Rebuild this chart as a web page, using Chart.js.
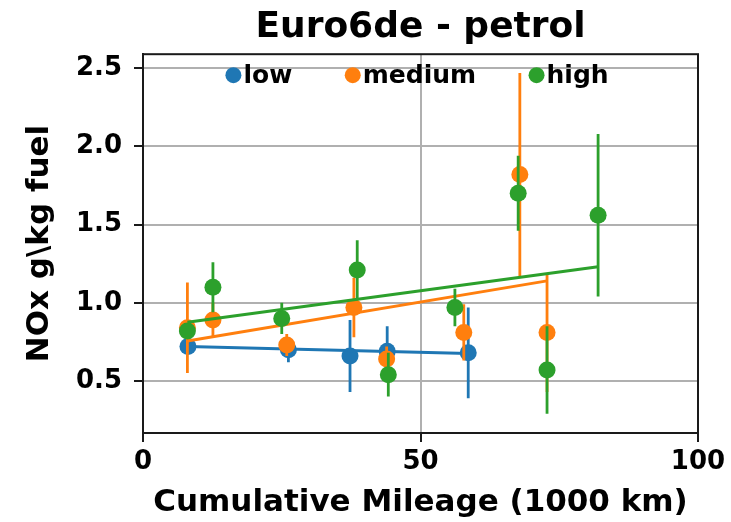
<!DOCTYPE html>
<html>
<head>
<meta charset="utf-8">
<script src="https://cdn.jsdelivr.net/npm/chart.js@4.4.0/dist/chart.umd.min.js"></script>
<style>
  html, body { margin: 0; padding: 0; background: #fff; }
  #wrap { width: 731px; height: 522px; }
</style>
</head>
<body>
<div id="wrap"><canvas id="noxChart"></canvas></div>
<script>
const groups = ['low', 'medium', 'high'];
const groupColors = ['#1f77b4', '#ff7f0e', '#2ca02c'];

// mileage (1000 km), mean NOx (g/kg fuel) and half-width of the error bar
const lowMileage = [8.1, 26.2, 37.3, 44.0, 58.6];
const lowNox = [0.72, 0.70, 0.66, 0.69, 0.68];
const lowErr = [0.05, 0.08, 0.23, 0.16, 0.29];

const mediumMileage = [8.0, 12.6, 25.9, 38.0, 43.9, 57.8, 67.9, 72.8];
const mediumNox = [0.84, 0.89, 0.73, 0.97, 0.64, 0.81, 1.82, 0.81];
const mediumErr = [0.29, 0.11, 0.07, 0.19, 0.08, 0.18, 0.65, 0.38];

const highMileage = [8.0, 12.6, 25.0, 38.6, 44.2, 56.2, 67.6, 72.8, 82.0];
const highNox = [0.82, 1.10, 0.90, 1.21, 0.54, 0.97, 1.70, 0.57, 1.56];
const highErr = [0.05, 0.16, 0.10, 0.19, 0.14, 0.12, 0.24, 0.28, 0.52];

// linear trend end points per group
const lowFitX = [8.1, 58.6];
const lowFitY = [0.72, 0.675];
const mediumFitX = [8.0, 72.8];
const mediumFitY = [0.755, 1.14];
const highFitX = [8.0, 82.0];
const highFitY = [0.875, 1.23];

const xTicks = [0, 50, 100];
const yTicks = [0.5, 1.0, 1.5, 2.0, 2.5];

const toPoints = (xs, ys) => xs.map((x, i) => ({ x: x, y: ys[i] }));

const pointSet = (i, xs, ys, errs, order) => ({
    type: 'scatter',
    label: groups[i],
    data: toPoints(xs, ys),
    errors: errs,
    backgroundColor: groupColors[i],
    borderColor: groupColors[i],
    pointRadius: 8.5,
    pointBorderWidth: 0,
    pointHoverRadius: 8.5,
    order: order
});

const fitSet = (i, xs, ys, order) => ({
    type: 'line',
    label: groups[i] + ' fit',
    data: toPoints(xs, ys),
    borderColor: groupColors[i],
    borderWidth: 3,
    pointRadius: 0,
    fill: false,
    order: order
});

const boldFont = (size) => ({ family: 'DejaVu Sans', weight: 'bold', size: size });

// vertical error bars, drawn just before each scatter set so the markers sit on top
const errorBars = {
    id: 'errorBars',
    beforeDatasetDraw(chart, args) {
        const ds = chart.data.datasets[args.index];
        if (!ds.errors) return;
        const { ctx, chartArea, scales: { x, y } } = chart;
        ctx.save();
        ctx.beginPath();
        ctx.rect(chartArea.left, chartArea.top, chartArea.width, chartArea.height);
        ctx.clip();
        ctx.strokeStyle = ds.borderColor;
        ctx.lineWidth = 2.8;
        ds.data.forEach((p, i) => {
            const px = x.getPixelForValue(p.x);
            ctx.beginPath();
            ctx.moveTo(px, y.getPixelForValue(p.y - ds.errors[i]));
            ctx.lineTo(px, y.getPixelForValue(p.y + ds.errors[i]));
            ctx.stroke();
        });
        ctx.restore();
    }
};

// closed box round the plot area
const frame = {
    id: 'frame',
    afterDatasetsDraw(chart) {
        const { ctx, chartArea: a } = chart;
        ctx.save();
        ctx.strokeStyle = '#1a1a1a';
        ctx.lineWidth = 2;
        ctx.strokeRect(a.left, a.top, a.width, a.height);
        ctx.restore();
    }
};

// one-row legend inside the top of the plot area
const innerLegend = {
    id: 'innerLegend',
    afterDatasetsDraw(chart) {
        const { ctx, chartArea: a } = chart;
        const sets = chart.data.datasets.filter(ds => ds.errors);
        const radius = 8;
        const textGap = 10;
        const itemGap = 44.5;
        ctx.save();
        ctx.font = 'bold 25px "DejaVu Sans"';
        ctx.textBaseline = 'middle';
        ctx.textAlign = 'left';
        const widths = sets.map(ds => radius + textGap + ctx.measureText(ds.label).width);
        const total = widths.reduce((s, w) => s + w, 0) + itemGap * (sets.length - 1) + radius;
        let x = (a.left + a.right) / 2 - total / 2 - 7.5;
        const y = a.top + 21;
        sets.forEach((ds, i) => {
            ctx.fillStyle = ds.backgroundColor;
            Chart.helpers.drawPoint(ctx, { pointStyle: 'circle', radius: radius, borderWidth: 0 }, x + radius, y);
            ctx.fillStyle = '#000';
            ctx.fillText(ds.label, x + radius + textGap, y + 1);
            x += radius + widths[i] + itemGap;
        });
        ctx.restore();
    }
};

// centre the title over the plot area rather than the whole canvas
const titleOverPlot = {
    id: 'titleOverPlot',
    afterLayout(chart) {
        chart.titleBlock.left = chart.chartArea.left;
        chart.titleBlock.right = chart.chartArea.right;
    }
};

new Chart(document.getElementById('noxChart'), {
    data: {
        datasets: [
            pointSet(0, lowMileage, lowNox, lowErr, 6),
            fitSet(0, lowFitX, lowFitY, 5),
            pointSet(1, mediumMileage, mediumNox, mediumErr, 4),
            fitSet(1, mediumFitX, mediumFitY, 3),
            pointSet(2, highMileage, highNox, highErr, 2),
            fitSet(2, highFitX, highFitY, 1)
        ]
    },
    options: {
        responsive: true,
        maintainAspectRatio: false,
        animation: false,
        layout: {
            padding: { left: 0, right: 33, top: 0, bottom: 0 }
        },
        scales: {
            x: {
                type: 'linear',
                min: 0,
                max: 100,
                afterBuildTicks: (scale) => { scale.ticks = xTicks.map(v => ({ value: v })); },
                afterFit: (scale) => { scale.height = 89; },
                ticks: {
                    font: boldFont(26),
                    color: '#000',
                    padding: 5,
                    maxRotation: 0,
                    callback: (v) => String(v)
                },
                grid: {
                    color: '#b0b0b0',
                    lineWidth: 2,
                    tickColor: '#1a1a1a',
                    tickLength: 9,
                    tickWidth: 2
                },
                border: { color: '#1a1a1a', width: 2 },
                title: {
                    display: true,
                    text: 'Cumulative Mileage (1000 km)',
                    font: boldFont(31),
                    color: '#000',
                    padding: { top: 0, bottom: 0 }
                }
            },
            y: {
                type: 'linear',
                min: 0.167,
                max: 2.59,
                afterBuildTicks: (scale) => { scale.ticks = yTicks.map(v => ({ value: v })); },
                afterFit: (scale) => { scale.width = 143; },
                ticks: {
                    font: boldFont(26),
                    color: '#000',
                    padding: 12,
                    callback: (v) => v.toFixed(1)
                },
                grid: {
                    color: '#b0b0b0',
                    lineWidth: 2,
                    tickColor: '#1a1a1a',
                    tickLength: 9,
                    tickWidth: 2
                },
                border: { color: '#1a1a1a', width: 2 },
                title: {
                    display: true,
                    text: 'NOx g\\kg fuel',
                    font: boldFont(31),
                    color: '#000',
                    padding: { top: 21, bottom: 0 }
                }
            }
        },
        plugins: {
            title: {
                display: true,
                text: 'Euro6de - petrol',
                font: boldFont(36),
                color: '#000',
                padding: { top: 6, bottom: 5 }
            },
            legend: { display: false },
            tooltip: { enabled: false }
        }
    },
    plugins: [errorBars, frame, innerLegend, titleOverPlot]
});
</script>
</body>
</html>
